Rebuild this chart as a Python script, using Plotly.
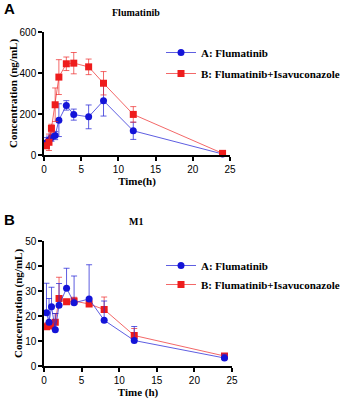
import plotly.graph_objects as go

# ---- Data ----
time_a = [0.33, 0.67, 1, 1.5, 2, 3, 4, 6, 8, 12, 24]
flum_a_mean = [60, 72, 85, 95, 170, 242, 197, 186, 265, 118, 5]
flum_a_sd = [25, 20, 18, 20, 80, 23, 27, 58, 75, 42, 3]
flum_b_mean = [45, 62, 130, 245, 380, 445, 448, 430, 350, 198, 8]
flum_b_sd = [12, 40, 20, 82, 85, 33, 52, 38, 57, 38, 3]

time_b = [0.33, 0.67, 1, 1.5, 2, 3, 4, 6, 8, 12, 24]
m1_a_mean = [21.3, 17.5, 23.7, 14.5, 24.3, 31.1, 25.3, 26.8, 18.3, 10.2, 3.2]
m1_a_sd = [11.8, 9.5, 7.8, 6.5, 8.7, 8.0, 10.7, 13.7, 7.7, 5.6, 1.5]
m1_b_mean = [15.7, 16.0, 16.3, 17.5, 27.0, 25.7, 26.0, 24.8, 22.6, 12.2, 4.0]
m1_b_sd = [1.5, 1.5, 1.5, 3.5, 8.5, 1.0, 1.5, 1.5, 5.0, 2.8, 1.0]

series_names = ["A: Flumatinib", "B: Flumatinib+Isavuconazole"]
x_ticks = [0, 5, 10, 15, 20, 25]

BLUE = "#1414d8"
RED = "#ee1c1c"
BLUE_L = "rgba(40,40,215,0.75)"
RED_L = "rgba(238,40,40,0.7)"

fig = go.Figure()

def add(x, y, sd, name, color, lcolor, symbol, xa, ya, legend, group, upper_only=False):
    err = dict(type="data", array=sd, color=lcolor, thickness=1, width=3, visible=True)
    if upper_only:
        err["arrayminus"] = [0] * len(sd)
        err["symmetric"] = False
    fig.add_trace(go.Scatter(
        x=x, y=y, name=name, mode="lines+markers",
        line=dict(color=lcolor, width=1),
        marker=dict(color=color, size=7, symbol=symbol),
        error_y=err, xaxis=xa, yaxis=ya, legend=legend, legendgroup=group,
        cliponaxis=False,
    ))

add(time_a, flum_a_mean, flum_a_sd, series_names[0], BLUE, BLUE_L, "circle", "x", "y", "legend", "a1")
add(time_a, flum_b_mean, flum_b_sd, series_names[1], RED, RED_L, "square", "x", "y", "legend", "a2")
add(time_b, m1_b_mean, m1_b_sd, series_names[1], RED, RED_L, "square", "x2", "y2", "legend2", "b2", True)
add(time_b, m1_a_mean, m1_a_sd, series_names[0], BLUE, BLUE_L, "circle", "x2", "y2", "legend2", "b1", True)

W, H = 343, 400
def xd(a, b): return [a / W, b / W]
def yd(top, bot): return [1 - bot / H, 1 - top / H]

tickfont = dict(family="Liberation Sans, Arial", size=10, color="black")
titlefont = dict(family="Liberation Serif, Times New Roman", size=11, color="black")
legfont = dict(family="Liberation Serif, Times New Roman", size=11, color="black", weight="bold")

axis_common = dict(showline=True, linecolor="black", linewidth=1.5, ticks="outside",
                   ticklen=4, tickwidth=1.5, tickcolor="black", showgrid=False,
                   zeroline=False, tickfont=tickfont, automargin=False)

fig.update_layout(
    width=W, height=H, margin=dict(l=0, r=0, t=0, b=0, autoexpand=False),
    paper_bgcolor="white", plot_bgcolor="white", showlegend=True,
    xaxis=dict(domain=xd(44, 230), range=[0, 25], tickvals=x_ticks, anchor="y",
               title=dict(text="<b>Time(h)</b>", font=titlefont, standoff=1), **axis_common),
    yaxis=dict(domain=yd(32, 155), range=[0, 600], tickvals=[0, 200, 400, 600], anchor="x",
               title=dict(text="<b>Concentration (ng/mL)</b>", font=titlefont, standoff=0),
               tickformat="d", **axis_common),
    xaxis2=dict(domain=xd(44, 232), range=[0, 25], tickvals=x_ticks, anchor="y2",
                title=dict(text="<b>Time (h)</b>", font=titlefont, standoff=1), **axis_common),
    yaxis2=dict(domain=yd(241, 366), range=[0, 50], tickvals=[0, 10, 20, 30, 40, 50], anchor="x2",
                title=dict(text="<b>Concentration (ng/mL)</b>", font=titlefont, standoff=0),
                **axis_common),
    legend=dict(x=161 / W, y=1 - 38 / H, xanchor="left", yanchor="top",
                font=legfont, bgcolor="rgba(0,0,0,0)", traceorder="grouped",
                tracegroupgap=2, itemwidth=30),
    legend2=dict(x=161 / W, y=1 - 251 / H, xanchor="left", yanchor="top",
                 font=legfont, bgcolor="rgba(0,0,0,0)", traceorder="reversed",
                 itemwidth=30),
    annotations=[
        dict(text="<b>A</b>", x=2 / W, y=1 - 9 / H, xref="paper", yref="paper",
             xanchor="left", yanchor="middle", showarrow=False,
             font=dict(family="Liberation Sans, Arial", size=15, color="black")),
        dict(text="<b>B</b>", x=2 / W, y=1 - 219 / H, xref="paper", yref="paper",
             xanchor="left", yanchor="middle", showarrow=False,
             font=dict(family="Liberation Sans, Arial", size=15, color="black")),
        dict(text="<b>Flumatinib</b>", x=136 / W, y=1 - 13 / H, xref="paper", yref="paper",
             xanchor="center", yanchor="middle", showarrow=False,
             font=dict(family="Liberation Serif, Times New Roman", size=10, color="black")),
        dict(text="<b>M1</b>", x=136 / W, y=1 - 221 / H, xref="paper", yref="paper",
             xanchor="center", yanchor="middle", showarrow=False,
             font=dict(family="Liberation Serif, Times New Roman", size=10, color="black")),
    ],
)

fig.write_html("out.html", config={"displayModeBar": False},
               post_script="document.body.style.margin='0';document.body.style.padding='0';")
